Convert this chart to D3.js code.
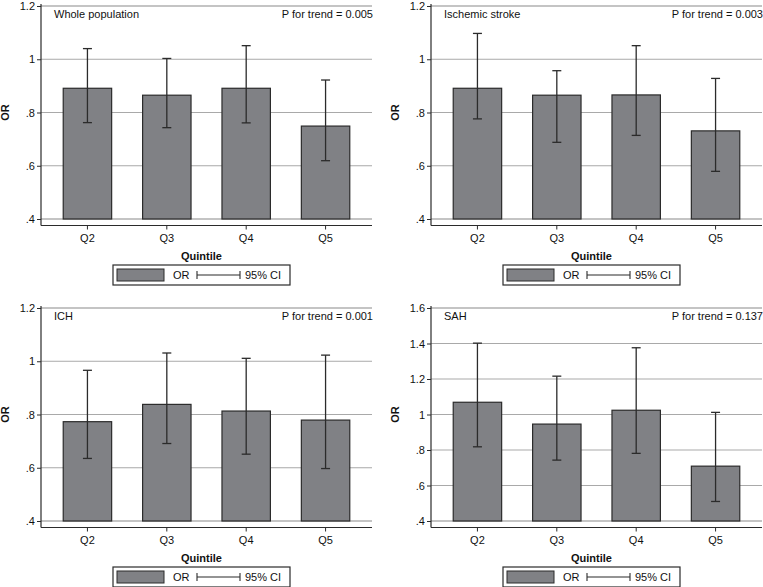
<!DOCTYPE html>
<html>
<head>
<meta charset="utf-8">
<script src="https://cdn.jsdelivr.net/npm/d3@7"></script>
<style>
  html, body { margin: 0; padding: 0; background: #ffffff; }
  svg { display: block; font-family: "Liberation Sans", Arial, sans-serif; }
</style>
</head>
<body>
<svg id="chart" width="763" height="587"></svg>
<script>
// ---- Data ----
const quintiles = ["Q2", "Q3", "Q4", "Q5"];

const orWhole = [0.891, 0.865, 0.891, 0.749];
const loWhole = [0.762, 0.743, 0.761, 0.619];
const hiWhole = [1.040, 1.003, 1.051, 0.922];

const orIschemic = [0.891, 0.865, 0.866, 0.731];
const loIschemic = [0.776, 0.688, 0.714, 0.579];
const hiIschemic = [1.097, 0.957, 1.051, 0.928];

const orICH = [0.773, 0.838, 0.813, 0.779];
const loICH = [0.635, 0.691, 0.651, 0.597];
const hiICH = [0.966, 1.031, 1.011, 1.023];

const orSAH = [1.069, 0.946, 1.024, 0.709];
const loSAH = [0.818, 0.743, 0.781, 0.510];
const hiSAH = [1.402, 1.216, 1.376, 1.012];

const ticksStd = [0.4, 0.6, 0.8, 1.0, 1.2];
const ticksSAH = [0.4, 0.6, 0.8, 1.0, 1.2, 1.4, 1.6];

const panelTitles = ["Whole population", "Ischemic stroke", "ICH", "SAH"];
const pTrend = ["P for trend = 0.005", "P for trend = 0.003", "P for trend = 0.001", "P for trend = 0.137"];
const xTitle = "Quintile";
const yTitle = "OR";
const legendLabels = ["OR", "95% CI"];

// ---- Style ----
const barFill = "#808185";
const dark = "#2b2b2b";
const gridCol = "#a9a9a9";
const gridEdge = "#c4c4c4";
const fontSize = 11;

const svg = d3.select("#chart");
const fmt = d => {
  let s = d3.format("~g")(+d.toFixed(2));
  return s.replace(/^0\./, ".");
};

function drawPanel(opt) {
  const { x0, yTop, yBot, ticks, or, lo, hi, title, ptxt } = opt;
  const W = 331;
  const g = svg.append("g");
  const x = d3.scaleBand().domain(quintiles).range([x0, x0 + W])
    .paddingInner(0.39).paddingOuter(0.28);
  const y = d3.scaleLinear().domain([ticks[0], ticks[ticks.length - 1]]).range([yBot, yTop]);
  const axisY = yBot + 6.5;

  // gridlines
  g.append("g").selectAll("line").data(ticks).join("line")
    .attr("x1", x0).attr("x2", x0 + W)
    .attr("y1", d => y(d)).attr("y2", d => y(d))
    .attr("stroke", (d, i) => (i === 0 || i === ticks.length - 1) ? gridEdge : gridCol)
    .attr("stroke-width", (d, i) => (i === 0 || i === ticks.length - 1) ? 2 : 1);

  // bars
  g.append("g").selectAll("rect").data(quintiles).join("rect")
    .attr("x", d => x(d))
    .attr("y", (d, i) => y(or[i]))
    .attr("width", x.bandwidth())
    .attr("height", (d, i) => y(ticks[0]) - y(or[i]))
    .attr("fill", barFill)
    .attr("stroke", dark)
    .attr("stroke-width", 1.2);

  // CI
  const ci = g.append("g").attr("stroke", dark).attr("stroke-width", 1.3);
  quintiles.forEach((q, i) => {
    const cx = x(q) + x.bandwidth() / 2;
    ci.append("line").attr("x1", cx).attr("x2", cx).attr("y1", y(lo[i])).attr("y2", y(hi[i]));
    ci.append("line").attr("x1", cx - 4.5).attr("x2", cx + 4.5).attr("y1", y(lo[i])).attr("y2", y(lo[i]));
    ci.append("line").attr("x1", cx - 4.5).attr("x2", cx + 4.5).attr("y1", y(hi[i])).attr("y2", y(hi[i]));
  });

  // y axis
  const yAx = g.append("g").attr("transform", `translate(${x0},0)`)
    .call(d3.axisLeft(y).tickValues(ticks).tickFormat(fmt).tickSize(4).tickPadding(2));
  yAx.select(".domain").remove();
  yAx.selectAll(".tick line").attr("stroke", dark);
  yAx.selectAll("text").attr("font-size", fontSize).attr("fill", "#111")
    .attr("font-family", "Liberation Sans, Arial, sans-serif");
  g.append("line").attr("x1", x0).attr("x2", x0).attr("y1", yTop - 2).attr("y2", axisY)
    .attr("stroke", dark).attr("stroke-width", 1.2);

  // x axis
  const xAx = g.append("g").attr("transform", `translate(0,${axisY})`)
    .call(d3.axisBottom(x).tickSize(4).tickPadding(5));
  xAx.select(".domain").remove();
  xAx.selectAll(".tick line").attr("stroke", dark);
  xAx.selectAll("text").attr("font-size", fontSize).attr("fill", "#111")
    .attr("font-family", "Liberation Sans, Arial, sans-serif");
  g.append("line").attr("x1", x0).attr("x2", x0 + W).attr("y1", axisY).attr("y2", axisY)
    .attr("stroke", dark).attr("stroke-width", 1.2);

  // axis titles
  g.append("text").attr("x", x0 + W / 2 - 5).attr("y", axisY + 34)
    .attr("text-anchor", "middle").attr("font-size", fontSize).attr("font-weight", "bold")
    .attr("fill", "#111").text(xTitle);
  g.append("text")
    .attr("transform", `translate(${x0 - 32},${(yTop + yBot) / 2}) rotate(-90)`)
    .attr("text-anchor", "middle").attr("font-size", fontSize).attr("font-weight", "bold")
    .attr("fill", "#111").text(yTitle);

  // panel annotations
  g.append("text").attr("x", x0 + 13).attr("y", yTop + 12)
    .attr("font-size", fontSize).attr("fill", "#111").text(title);
  g.append("text").attr("x", x0 + W + 1).attr("y", yTop + 12)
    .attr("text-anchor", "end").attr("font-size", fontSize).attr("fill", "#111").text(ptxt);

  // legend
  const lx = x0 + 72, ly = axisY + 39.5, lw = 177, lh = 20;
  const lg = g.append("g");
  lg.append("rect").attr("x", lx).attr("y", ly).attr("width", lw).attr("height", lh)
    .attr("fill", "#fff").attr("stroke", dark).attr("stroke-width", 1.2);
  lg.append("rect").attr("x", lx + 4).attr("y", ly + 4).attr("width", 47).attr("height", lh - 8)
    .attr("fill", barFill).attr("stroke", dark).attr("stroke-width", 1);
  const cy = ly + lh / 2;
  lg.append("text").attr("x", lx + 60).attr("y", cy + 4)
    .attr("font-size", fontSize).attr("fill", "#111").text(legendLabels[0]);
  const ls = lg.append("g").attr("stroke", dark).attr("stroke-width", 1.1);
  ls.append("line").attr("x1", lx + 84).attr("x2", lx + 127).attr("y1", cy).attr("y2", cy);
  ls.append("line").attr("x1", lx + 84).attr("x2", lx + 84).attr("y1", cy - 4).attr("y2", cy + 4);
  ls.append("line").attr("x1", lx + 127).attr("x2", lx + 127).attr("y1", cy - 4).attr("y2", cy + 4);
  lg.append("text").attr("x", lx + 132).attr("y", cy + 4)
    .attr("font-size", fontSize).attr("fill", "#111").text(legendLabels[1]);
}

drawPanel({ x0: 41, yTop: 6, yBot: 219, ticks: ticksStd, or: orWhole, lo: loWhole, hi: hiWhole,
  title: panelTitles[0], ptxt: pTrend[0] });
drawPanel({ x0: 431, yTop: 6, yBot: 219, ticks: ticksStd, or: orIschemic, lo: loIschemic, hi: hiIschemic,
  title: panelTitles[1], ptxt: pTrend[1] });
drawPanel({ x0: 41, yTop: 308, yBot: 521, ticks: ticksStd, or: orICH, lo: loICH, hi: hiICH,
  title: panelTitles[2], ptxt: pTrend[2] });
drawPanel({ x0: 431, yTop: 308, yBot: 521, ticks: ticksSAH, or: orSAH, lo: loSAH, hi: hiSAH,
  title: panelTitles[3], ptxt: pTrend[3] });
</script>
</body>
</html>
